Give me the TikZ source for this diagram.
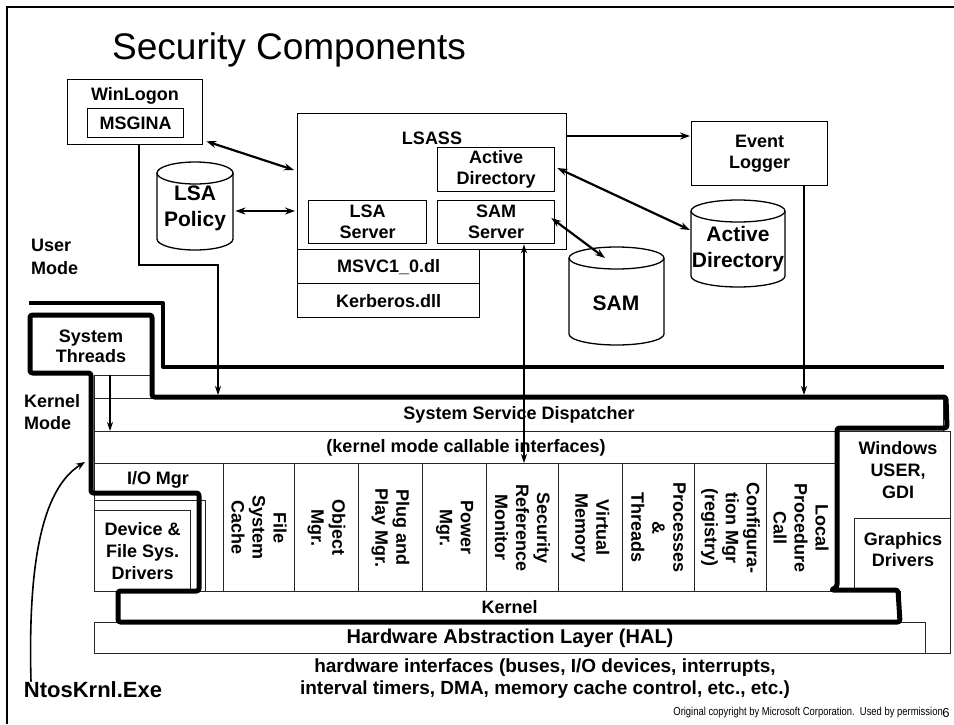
\documentclass[tikz,border=0pt]{standalone}
\usepackage{fontspec}
\usepackage{graphicx}
\setmainfont{Liberation Sans}
\usetikzlibrary{arrows.meta}
\newcommand\lblf{\bfseries\fontsize{18}{21}\selectfont}
\newcommand\cylf{\bfseries\fontsize{21}{26}\selectfont}
\newcommand\drawcyl[4]{%
  \draw[cylline] (#1,#2+11) -- (#1,#4-11) arc[start angle=180,end angle=0,x radius={(#3-#1)/2},y radius=11] -- (#3,#2+11);
  \draw[cylline] ({(#1+#3)/2},#2+11) ellipse[x radius={(#3-#1)/2},y radius=11];}
\begin{document}
\begin{tikzpicture}[x=1pt,y=-1pt,
  box/.style={draw, line width=1.3pt, inner sep=0pt, anchor=north west, align=center, font=\lblf},
  kbox/.style={draw=black!85, line width=1.1pt, inner sep=0pt, anchor=north west, align=center, font=\lblf},
  lbl/.style={inner sep=0pt, align=center, font=\lblf},
  collbl/.style={inner sep=0pt, align=center, font=\lblf, rotate=-90},
  anchorbox/.style={inner sep=0pt, anchor=north west},
  darr/.style={line width=2.2pt, {Stealth[length=10pt,width=7pt]}-{Stealth[length=10pt,width=7pt]}},
  sarr/.style={line width=2.2pt, -{Stealth[length=10pt,width=7pt]}},
  varr/.style={line width=1.6pt, -{Stealth[length=9pt,width=6pt,inset=3pt]}},
  vdarr/.style={line width=1.6pt, {Stealth[length=9pt,width=6pt,inset=3pt]}-{Stealth[length=9pt,width=6pt,inset=3pt]}},
  bound/.style={line width=4pt, line join=round},
  ntosln/.style={line width=5pt, rounded corners=2.5pt, line join=round},
  cylline/.style={line width=1.3pt}
]
\useasboundingbox[fill=white] (0,0) rectangle (954,724);
% slide frame
\draw[line width=1.5pt] (7,724) -- (7,7) -- (954,7);
% title
\node[anchor=base west, inner sep=0pt, font=\fontsize{37}{40}\selectfont] (title) at (112,59) {Security Components};

% ---------- user mode ----------
\node[box, minimum width=135pt, minimum height=65pt] (winlogon) at (67,79) {};
\node[lbl] (wltxt) at (135,96) {WinLogon};
\node[box, minimum width=96pt, minimum height=29pt] (msgina) at (87,108) {MSGINA};

\node[box, minimum width=269pt, minimum height=136pt] (lsass) at (297,113) {};
\node[lbl] (lsasstxt) at (432,138) {LSASS};
\node[box, minimum width=117pt, minimum height=44pt] (adbox) at (437,147) {Active\\Directory};
\node[box, minimum width=118pt, minimum height=43pt] (lsasrv) at (308,200) {LSA\\Server};
\node[box, minimum width=117pt, minimum height=43pt] (samsrv) at (437,200) {SAM\\Server};
\node[box, minimum width=182pt, minimum height=34pt] (msvc) at (297,249) {MSVC1\_0.dl};
\node[box, minimum width=182pt, minimum height=34pt] (kerb) at (297,283) {Kerberos.dll};

\node[box, minimum width=136pt, minimum height=64pt] (evlog) at (691,121) {Event\\Logger};

% cylinders
\node[anchorbox, minimum width=76pt, minimum height=88pt] (lsapol) at (157,162) {};
\drawcyl{157}{162}{233}{250}
\node[lbl, font=\cylf] (lsapoltxt) at (195,208) {LSA\\Policy};
\node[anchorbox, minimum width=94pt, minimum height=87pt] (adcyl) at (691,200) {};
\drawcyl{691}{200}{785}{287}
\node[lbl, font=\cylf] (adcyltxt) at (738,249) {Active\\Directory};
\node[anchorbox, minimum width=95pt, minimum height=98pt] (samcyl) at (569,247) {};
\drawcyl{569}{247}{664}{345}
\node[lbl, font=\cylf] (samcyltxt) at (616,303) {SAM};

\node[lbl, anchor=west, align=left, font=\bfseries\fontsize{18}{23}\selectfont] (umode) at (31,257) {User\\Mode};
\node[lbl, anchor=west, align=left, font=\bfseries\fontsize{18}{22}\selectfont] (kmode) at (24,412) {Kernel\\Mode};

% ---------- kernel mode ----------
\node[kbox, minimum width=58pt, minimum height=23pt] (stbox) at (94,375) {};
\node[kbox, minimum width=849pt, minimum height=33pt] (disp) at (94,398) {System Service Dispatcher};
\node[kbox, minimum width=743pt, minimum height=32pt] (cbl) at (94,431) {(kernel mode callable interfaces)};

\node[kbox, minimum width=129pt, minimum height=128pt] (iomgr) at (94,463) {};
\node[lbl] (iotxt) at (158,480) {I/O Mgr};
\node[kbox, minimum width=111pt, minimum height=91pt] (devout) at (94,500) {};
\node[kbox, minimum width=96pt, minimum height=81pt, font=\bfseries\fontsize{18}{22}\selectfont] (devdrv) at (94,510) {Device \&\\File Sys.\\Drivers};

\node[kbox, minimum width=71pt, minimum height=128pt] (fsc) at (223,463) {};
\node[kbox, minimum width=64pt, minimum height=128pt] (obj) at (294,463) {};
\node[kbox, minimum width=64pt, minimum height=128pt] (pnp) at (358,463) {};
\node[kbox, minimum width=64pt, minimum height=128pt] (pwr) at (422,463) {};
\node[kbox, minimum width=72pt, minimum height=128pt] (srm) at (486,463) {};
\node[kbox, minimum width=64pt, minimum height=128pt] (vm) at (558,463) {};
\node[kbox, minimum width=72pt, minimum height=128pt] (pt) at (622,463) {};
\node[kbox, minimum width=72pt, minimum height=128pt] (cfg) at (694,463) {};
\node[kbox, minimum width=69pt, minimum height=128pt] (lpc) at (766,463) {};

\node[collbl] (fsctxt) at (fsc.center) {File\\System\\Cache};
\node[collbl] (objtxt) at (obj.center) {Object\\Mgr.};
\node[collbl] (pnptxt) at (pnp.center) {Plug and\\Play Mgr.};
\node[collbl] (pwrtxt) at (pwr.center) {Power\\Mgr.};
\node[collbl] (srmtxt) at (srm.center) {Security\\Reference\\Monitor};
\node[collbl] (vmtxt) at (vm.center) {Virtual\\Memory};
\node[collbl] (pttxt) at (pt.center) {Processes\\\&\\Threads};
\node[collbl] (cfgtxt) at (cfg.center) {Configura-\\tion Mgr\\(registry)};
\node[collbl] (lpctxt) at (lpc.center) {Local\\Procedure\\Call};

\node[kbox, minimum width=113pt, minimum height=222pt] (winuser) at (837,431) {};
\node[lbl, font=\bfseries\fontsize{18}{22}\selectfont] (wintxt) at (898,470) {Windows\\USER,\\GDI};
\node[kbox, minimum width=96pt, minimum height=135pt] (gfx) at (854,518) {};
\node[lbl] (gfxtxt) at (903,550) {Graphics\\Drivers};

\node[kbox, fill=white, minimum width=782pt, minimum height=31pt] (kernel) at (118,591) {Kernel};
\node[kbox, fill=white, minimum width=831pt, minimum height=31pt, font=\bfseries\fontsize{20}{22}\selectfont] (hal) at (94,622) {Hardware Abstraction Layer (HAL)};

\node[lbl, font=\bfseries\fontsize{19}{22}\selectfont] (hwtxt) at (545,679) {hardware interfaces (buses, I/O devices, interrupts,\\interval timers, DMA, memory cache control, etc., etc.)};
\node[lbl, font=\bfseries\fontsize{22}{24}\selectfont] (ntos) at (93,690) {NtosKrnl.Exe};

% boundary and NtosKrnl outline
\draw[bound] (29,303) -- (163,303) -- (163,367) -- (944,367);
\node[lbl, font=\bfseries\fontsize{18}{20}\selectfont] (sttxt) at (91,346) {System\\Threads};
\draw[ntosln] (30,315) -- (152,315) -- (152,397) -- (946,397) -- (947,428) -- (837,428) -- (837,587) -- (831,590) -- (898,590) -- (900,622) -- (118,622) -- (118,591) -- (199,591) -- (199,493) -- (91,493) -- (91,373) -- (30,373) -- cycle;

% connectors
\draw[darr] ([xshift=3pt,yshift=4pt]winlogon.south east) -- ([xshift=-3pt]lsass.west |- 0,170);
\draw[darr] ([xshift=2pt]lsapol.east |- 0,211) -- ([xshift=-2pt]lsass.west |- 0,211);
\draw[sarr] (lsass.east |- 0,136) -- ([xshift=-1pt]evlog.west |- 0,136);
\draw[darr] ([xshift=2pt]adbox.east |- 0,168) -- ([xshift=-1pt]adcyl.west |- 0,230);
\draw[darr] ([xshift=-4pt]samsrv.east |- 0,218) -- (605,258);
\draw[vdarr] (samsrv.south -| 524,0) -- (srm.north -| 524,0);
\draw[varr] (winlogon.south -| 139,0) -- (139,265) -- (218,265) -- ([yshift=3pt]disp.north -| 218,0);
\draw[varr] (evlog.south -| 804,0) -- ([yshift=3pt]disp.north -| 804,0);
\draw[varr] (stbox.north -| 110,0) -- (cbl.north -| 110,0);
\draw[line width=1.6pt, -{Stealth[length=9pt,width=7pt]}] (ntos.north -| 31,0) .. controls (28,570) and (40,490) .. ([xshift=-9pt,yshift=1pt]iomgr.north west);

% footer
\node[anchor=base east, inner sep=0pt] (copy) at (943,715) {\scalebox{0.82}[1]{\fontsize{11.5}{12}\selectfont Original copyright by Microsoft Corporation.\ \ Used by permission}};
\node[inner sep=0pt, font=\fontsize{13}{14}\selectfont] (pgno) at (946,713) {6};
\end{tikzpicture}
\end{document}
